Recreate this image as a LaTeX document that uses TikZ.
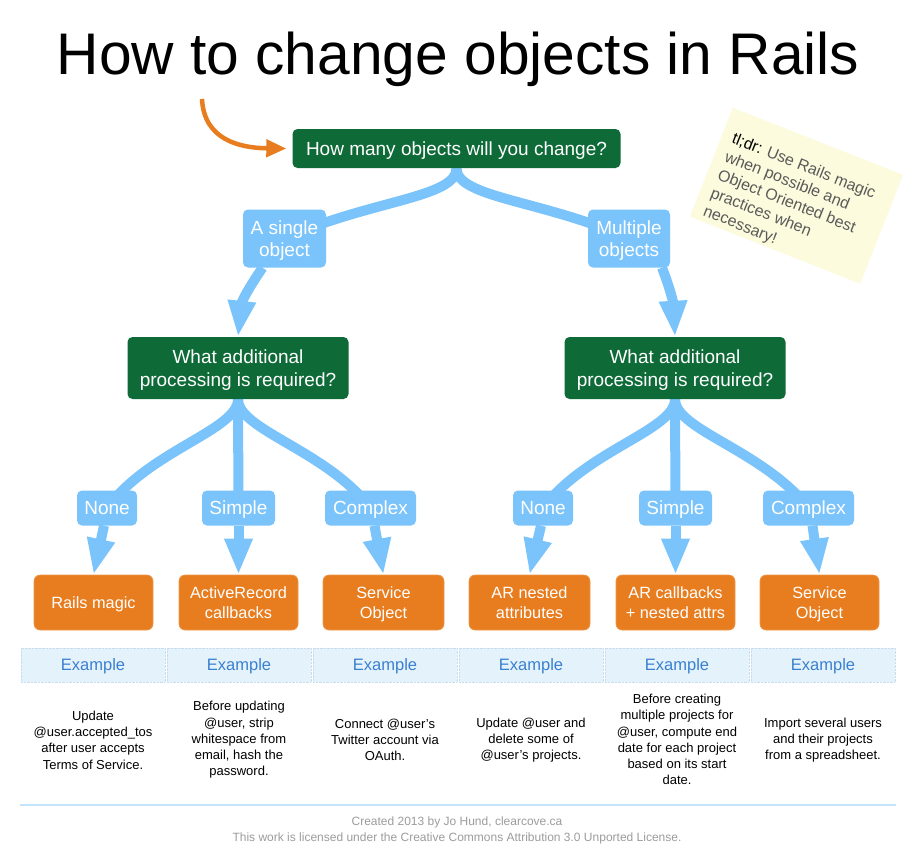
\documentclass[tikz,border=0pt]{standalone}
\usepackage{fontspec}
\setmainfont{Liberation Sans}
\usetikzlibrary{arrows.meta,backgrounds}
\definecolor{qgreen}{HTML}{0E6B38}
\definecolor{lblue}{HTML}{7AC4FB}
\definecolor{orng}{HTML}{E87D1F}
\definecolor{hdrbg}{HTML}{E4F2FC}
\definecolor{hdrline}{HTML}{C9DCEB}
\definecolor{hdrtxt}{HTML}{3A80D0}
\definecolor{notebg}{HTML}{FCFBDD}
\definecolor{notetxt}{HTML}{5A5A5A}
\definecolor{foot}{HTML}{9C9C9C}
\tikzset{
  question/.style={fill=qgreen, rounded corners=5pt, text=white, align=center,
    font=\fontsize{19}{23}\selectfont, inner sep=0pt, text depth=0pt},
  answer/.style={fill=lblue, rounded corners=5pt, text=white, align=center,
    font=\fontsize{19}{22}\selectfont, inner sep=0pt, text depth=0pt},
  result/.style={fill=orng, draw=orng!80!white, line width=0.6pt, rounded corners=6pt,
    text=white, align=center, font=\fontsize{16.3}{19.5}\selectfont,
    inner sep=0pt, minimum height=55pt, text depth=0pt},
  hdr/.style={fill=hdrbg, draw=hdrline, densely dotted, line width=0.4pt, text=hdrtxt,
    font=\fontsize{16.5}{20}\selectfont, minimum width=144pt, minimum height=34pt,
    inner sep=0pt, text depth=0pt},
  bodytext/.style={align=center, font=\fontsize{13}{16.3}\selectfont, text=black, inner sep=0pt},
  branch/.style={draw=lblue, line width=10pt},
  flowarrow/.style={draw=lblue, line width=10pt, -{Triangle[width=26pt,length=36pt]}},
  startarrow/.style={draw=orng, line width=4.5pt, -{Triangle[width=17pt,length=20pt]}},
}
\begin{document}
\begin{tikzpicture}[x=1pt,y=-1pt]
\useasboundingbox (0,0) rectangle (920,862);

% title
\node[font=\fontsize{58.7}{60}\selectfont, anchor=base, inner sep=0pt] (title) at (458,74) {How to change objects in Rails};

% questions
\node[question, minimum width=328pt, minimum height=39pt] (q1) at (456.5,148.5) {How many objects will you change?};
\node[question, minimum width=221pt, minimum height=62pt] (q2L) at (238,368) {What additional\\processing is required?};
\node[question, minimum width=221pt, minimum height=62pt] (q2R) at (675,368) {What additional\\processing is required?};

% first level answers
\node[answer, minimum width=83pt, minimum height=58pt] (s1) at (284.5,238.5) {A single\\object};
\node[answer, minimum width=82pt, minimum height=58pt] (m1) at (629,238.5) {Multiple\\objects};

% second level answers
\node[answer, minimum width=60pt, minimum height=35pt] (nL) at (107,508) {None};
\node[answer, minimum width=73pt, minimum height=35pt] (sL) at (238.5,508) {Simple};
\node[answer, minimum width=91pt, minimum height=35pt] (cL) at (370.5,508) {Complex};
\node[answer, minimum width=60pt, minimum height=35pt] (nR) at (543,508) {None};
\node[answer, minimum width=73pt, minimum height=35pt] (sR) at (675.5,508) {Simple};
\node[answer, minimum width=91pt, minimum height=35pt] (cR) at (808.5,508) {Complex};

% results
\node[result, minimum width=119pt] (oL1) at (93.5,602.5) {Rails magic};
\node[result, minimum width=119pt] (oL2) at (238.5,602.5) {ActiveRecord\\callbacks};
\node[result, minimum width=121pt] (oL3) at (383.5,602.5) {Service\\Object};
\node[result, minimum width=121pt] (oR1) at (529.5,602.5) {AR nested\\attributes};
\node[result, minimum width=119pt] (oR2) at (675.5,602.5) {AR callbacks\\+ nested attrs};
\node[result, minimum width=119pt] (oR3) at (819.5,602.5) {Service\\Object};

% example table
\node[hdr] (h1) at (93,665) {Example};
\node[hdr] (h2) at (239,665) {Example};
\node[hdr] (h3) at (385,665) {Example};
\node[hdr] (h4) at (531,665) {Example};
\node[hdr] (h5) at (677,665) {Example};
\node[hdr] (h6) at (823,665) {Example};

\node[bodytext] (b1) at (93,740) {Update\\@user.accepted\_tos\\after user accepts\\Terms of Service.};
\node[bodytext] (b2) at (239,740) {Before updating\\@user, strip\\whitespace from\\email, hash the\\password.};
\node[bodytext] (b3) at (385,740) {Connect @user's\\Twitter account via\\OAuth.};
\node[bodytext] (b4) at (531,740) {Update @user and\\delete some of\\@user's projects.};
\node[bodytext] (b5) at (677,739.5) {Before creating\\multiple projects for\\@user, compute end\\date for each project\\based on its start\\date.};
\node[bodytext] (b6) at (823,740) {Import several users\\and their projects\\from a spreadsheet.};

\coordinate (tl) at (20,805);
\coordinate (tr) at (896,805);
\draw[hdrbg!70!lblue, line width=1.5pt] (tl) -- (tr);

% footer
\node[font=\fontsize{12}{16}\selectfont, text=foot, align=center, inner sep=0pt] (footer) at (457,830)
  {Created 2013 by Jo Hund, clearcove.ca\\This work is licensed under the Creative Commons Attribution 3.0 Unported License.};

% sticky note
\begin{scope}[shift={(796.5,195.75)}, rotate=-21.5]
  \node[fill=notebg, minimum width=183pt, minimum height=117pt, inner sep=0pt, transform shape] (note) at (0,0) {};
  \node[transform shape, anchor=north west, align=left, text=notetxt,
        font=\fontsize{16}{19.5}\selectfont, inner sep=0pt] (notetext) at (-80.5,-37)
    {{\color{black}tl;dr:} Use Rails magic\\when possible and\\Object Oriented best\\practices when\\necessary!};
\end{scope}

% start arrow
\coordinate (start) at (202,99);
\draw[startarrow] (start) .. controls (204,140) and (240,148) .. ([xshift=-6pt]q1.west);

% connectors
\begin{pgfonlayer}{background}
  \fill[white] (0,0) rectangle (920,862);
  \draw[branch] (q1.south) .. controls (456.5,198) and (370,200) .. (s1.center);
  \draw[branch] (q1.south) .. controls (456.5,198) and (543,200) .. (m1.center);
  \draw[flowarrow] ([xshift=-22pt]s1.south) .. controls (252,283) and (242,300) .. (q2L.north);
  \draw[flowarrow] ([xshift=33pt]m1.south) .. controls (668,283) and (673,300) .. (q2R.north);

  \draw[branch] (q2L.south) .. controls (238,430) and (150,450) .. (nL.center);
  \draw[branch] (q2L.south) -- (sL.center);
  \draw[branch] (q2L.south) .. controls (238,430) and (326,450) .. (cL.center);
  \draw[branch] (q2R.south) .. controls (675,430) and (587,450) .. (nR.center);
  \draw[branch] (q2R.south) -- (sR.center);
  \draw[branch] (q2R.south) .. controls (675,430) and (763,450) .. (cR.center);

  \draw[flowarrow] ([xshift=-3pt]nL.south) -- (oL1.north);
  \draw[flowarrow] (sL.south) -- (oL2.north);
  \draw[flowarrow] ([xshift=4pt]cL.south) -- (oL3.north);
  \draw[flowarrow] ([xshift=-2pt]nR.south) -- (oR1.north);
  \draw[flowarrow] (sR.south) -- (oR2.north);
  \draw[flowarrow] ([xshift=4pt]cR.south) -- (oR3.north);
\end{pgfonlayer}
\end{tikzpicture}
\end{document}
